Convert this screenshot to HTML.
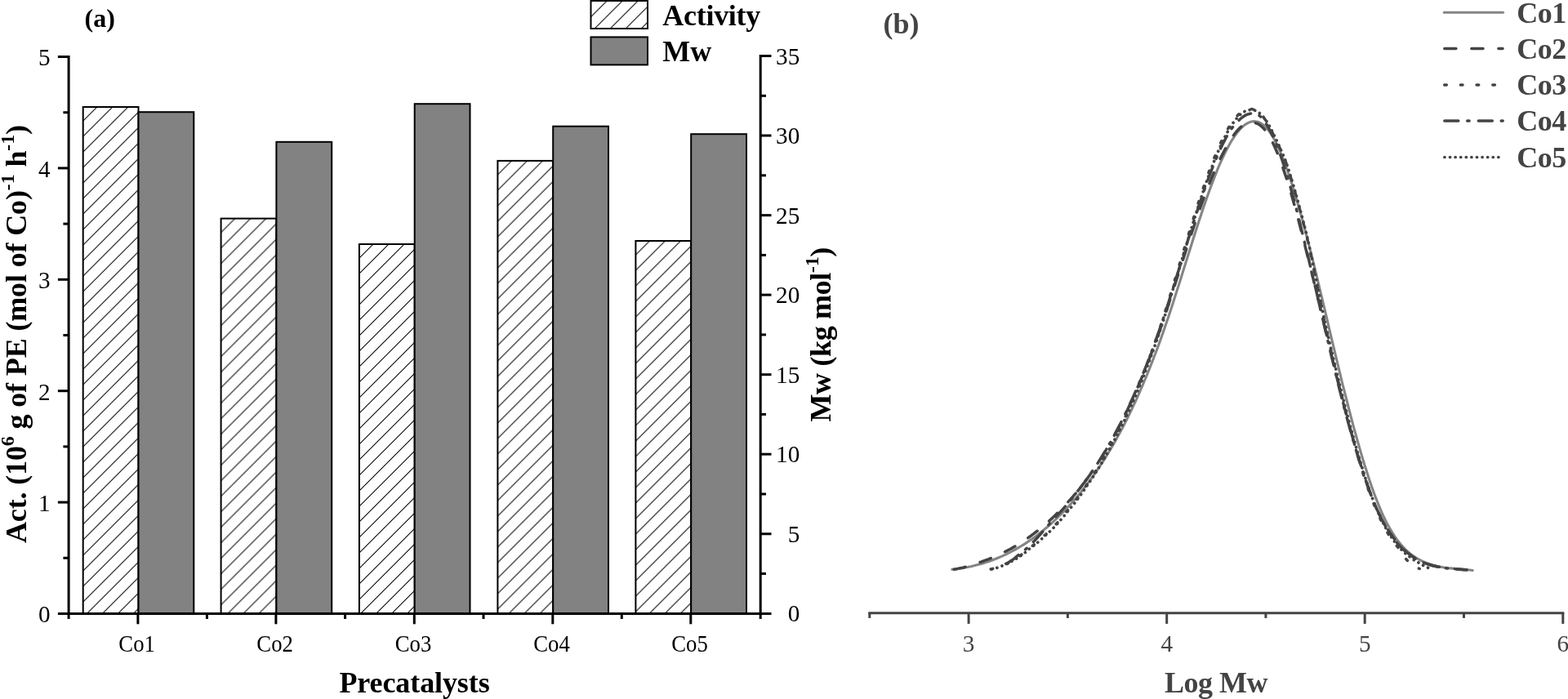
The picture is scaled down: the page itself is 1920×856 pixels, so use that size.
<!DOCTYPE html>
<html lang="en"><head><meta charset="utf-8"><title>Figure</title>
<style>
html,body{margin:0;padding:0;background:#fff;}
body{width:1920px;height:856px;overflow:hidden;}
svg{display:block;}
text{font-family:"Liberation Serif",serif;}
.b{font-weight:bold;}
.tk{font-size:30.3px;fill:#000;}
.tg{font-size:30.3px;fill:#444;}
</style></head><body>
<svg width="1920" height="856" viewBox="0 0 1920 856">
<defs>
<pattern id="hatch" patternUnits="userSpaceOnUse" width="19" height="19" x="-1.9" y="0"><path d="M-2,2 L2,-2 M-1,20 L20,-1 M17,21 L21,17" stroke="#000" stroke-width="1.05" fill="none"/></pattern>
<pattern id="hatchL" patternUnits="userSpaceOnUse" width="19" height="19" x="0.75" y="0"><path d="M-2,2 L2,-2 M-1,20 L20,-1 M17,21 L21,17" stroke="#000" stroke-width="1.05" fill="none"/></pattern>
</defs>
<rect width="1920" height="856" fill="#fff"/>
<g stroke="#000" stroke-width="2">
<g transform="translate(101.7,131.0)"><rect x="0" y="0" width="67.8" height="620.5" fill="url(#hatch)"/></g>
<rect x="169.5" y="137.2" width="67.8" height="614.3" fill="#828282"/>
<g transform="translate(270.6,267.6)"><rect x="0" y="0" width="67.8" height="483.9" fill="url(#hatch)"/></g>
<rect x="338.4" y="173.8" width="67.8" height="577.7" fill="#828282"/>
<g transform="translate(439.9,299.0)"><rect x="0" y="0" width="67.8" height="452.5" fill="url(#hatch)"/></g>
<rect x="507.7" y="127.2" width="67.8" height="624.3" fill="#828282"/>
<g transform="translate(609.4,196.9)"><rect x="0" y="0" width="67.8" height="554.6" fill="url(#hatch)"/></g>
<rect x="677.2" y="154.7" width="67.8" height="596.8" fill="#828282"/>
<g transform="translate(778.4,295.0)"><rect x="0" y="0" width="67.8" height="456.5" fill="url(#hatch)"/></g>
<rect x="846.2" y="164.2" width="67.8" height="587.3" fill="#828282"/>
</g>
<g stroke="#000" stroke-width="3" fill="none">
<path d="M84.1,68.0 V758.0"/>
<path d="M931.2,67.0 V758.0"/>
<path d="M70.89999999999999,751.5 H944.5"/>
<path d="M77.4,683.3 H84.1"/>
<path d="M70.9,615.1 H84.1"/>
<path d="M77.4,546.9 H84.1"/>
<path d="M70.9,478.7 H84.1"/>
<path d="M77.4,410.5 H84.1"/>
<path d="M70.9,342.3 H84.1"/>
<path d="M77.4,274.1 H84.1"/>
<path d="M70.9,205.9 H84.1"/>
<path d="M77.4,137.7 H84.1"/>
<path d="M70.9,69.5 H84.1"/>
<path d="M931.2,702.5 H938.0"/>
<path d="M931.2,653.8 H944.5"/>
<path d="M931.2,605.0 H938.0"/>
<path d="M931.2,556.2 H944.5"/>
<path d="M931.2,507.4 H938.0"/>
<path d="M931.2,458.7 H944.5"/>
<path d="M931.2,409.9 H938.0"/>
<path d="M931.2,361.1 H944.5"/>
<path d="M931.2,312.4 H938.0"/>
<path d="M931.2,263.6 H944.5"/>
<path d="M931.2,214.8 H938.0"/>
<path d="M931.2,166.0 H944.5"/>
<path d="M931.2,117.3 H938.0"/>
<path d="M931.2,68.5 H944.5"/>
<path d="M168.9,751.5 V764.3"/>
<path d="M253.4,751.5 V758.0"/>
<path d="M337.9,751.5 V764.3"/>
<path d="M422.6,751.5 V758.0"/>
<path d="M507.3,751.5 V764.3"/>
<path d="M592.0,751.5 V758.0"/>
<path d="M676.8,751.5 V764.3"/>
<path d="M761.3,751.5 V758.0"/>
<path d="M845.8,751.5 V764.3"/>
</g>
<text class="tk" x="61.6" y="762.4" text-anchor="end" textLength="14.6" lengthAdjust="spacingAndGlyphs">0</text>
<text class="tk" x="61.6" y="626.0" text-anchor="end" textLength="14.6" lengthAdjust="spacingAndGlyphs">1</text>
<text class="tk" x="61.6" y="489.6" text-anchor="end" textLength="14.6" lengthAdjust="spacingAndGlyphs">2</text>
<text class="tk" x="61.6" y="353.2" text-anchor="end" textLength="14.6" lengthAdjust="spacingAndGlyphs">3</text>
<text class="tk" x="61.6" y="216.8" text-anchor="end" textLength="14.6" lengthAdjust="spacingAndGlyphs">4</text>
<text class="tk" x="61.6" y="80.4" text-anchor="end" textLength="14.6" lengthAdjust="spacingAndGlyphs">5</text>
<text class="tk" x="979.3" y="761.3" text-anchor="end" textLength="14.6" lengthAdjust="spacingAndGlyphs">0</text>
<text class="tk" x="979.3" y="663.8" text-anchor="end" textLength="14.6" lengthAdjust="spacingAndGlyphs">5</text>
<text class="tk" x="979.3" y="566.2" text-anchor="end" textLength="29.2" lengthAdjust="spacingAndGlyphs">10</text>
<text class="tk" x="979.3" y="468.7" text-anchor="end" textLength="29.2" lengthAdjust="spacingAndGlyphs">15</text>
<text class="tk" x="979.3" y="371.1" text-anchor="end" textLength="29.2" lengthAdjust="spacingAndGlyphs">20</text>
<text class="tk" x="979.3" y="273.6" text-anchor="end" textLength="29.2" lengthAdjust="spacingAndGlyphs">25</text>
<text class="tk" x="979.3" y="176.0" text-anchor="end" textLength="29.2" lengthAdjust="spacingAndGlyphs">30</text>
<text class="tk" x="979.3" y="78.5" text-anchor="end" textLength="29.2" lengthAdjust="spacingAndGlyphs">35</text>
<text class="tk" x="167.6" y="798.3" text-anchor="middle" textLength="44.5" lengthAdjust="spacingAndGlyphs">Co1</text>
<text class="tk" x="336.6" y="798.3" text-anchor="middle" textLength="44.5" lengthAdjust="spacingAndGlyphs">Co2</text>
<text class="tk" x="506.0" y="798.3" text-anchor="middle" textLength="44.5" lengthAdjust="spacingAndGlyphs">Co3</text>
<text class="tk" x="675.5" y="798.3" text-anchor="middle" textLength="44.5" lengthAdjust="spacingAndGlyphs">Co4</text>
<text class="tk" x="844.5" y="798.3" text-anchor="middle" textLength="44.5" lengthAdjust="spacingAndGlyphs">Co5</text>
<text class="b" x="103.6" y="33.4" font-size="32">(a)</text>
<text class="b" x="415.4" y="848.2" font-size="36" textLength="184.3">Precatalysts</text>
<text class="b" font-size="36" textLength="512" transform="translate(32.2,665) rotate(-90)">Act. (10<tspan font-size="24" dy="-15.5">6</tspan><tspan dy="15.5"> g of PE (mol of Co)</tspan><tspan font-size="24" dy="-15.5">-1</tspan><tspan dy="15.5"> h</tspan><tspan font-size="24" dy="-15.5">-1</tspan><tspan dy="15.5">)</tspan></text>
<text class="b" font-size="36" textLength="213.8" transform="translate(1017,516.5) rotate(-90)">Mw (kg mol<tspan font-size="24" dy="-15.5">-1</tspan><tspan dy="15.5">)</tspan></text>
<g stroke="#000" stroke-width="2">
<g transform="translate(723.5,1)"><rect x="0" y="0" width="69.5" height="34" fill="url(#hatchL)"/></g>
<rect x="723.5" y="45.4" width="69.5" height="34" fill="#828282"/>
</g>
<text class="b" x="811.3" y="30.7" font-size="36" textLength="120">Activity</text>
<text class="b" x="811.3" y="75.2" font-size="36">Mw</text>
<g stroke="#444" stroke-width="3" fill="none">
<path d="M1063.3,750.7 H1915.3"/>
<path d="M1064.8,750.7 V756.9"/>
<path d="M1186.1,750.7 V763.9"/>
<path d="M1307.4,750.7 V756.9"/>
<path d="M1428.7,750.7 V763.9"/>
<path d="M1549.9,750.7 V756.9"/>
<path d="M1671.2,750.7 V763.9"/>
<path d="M1792.5,750.7 V756.9"/>
<path d="M1913.8,750.7 V763.9"/>
</g>
<text class="tg" x="1186.1" y="798.2" text-anchor="middle" textLength="14.6" lengthAdjust="spacingAndGlyphs">3</text>
<text class="tg" x="1428.7" y="798.2" text-anchor="middle" textLength="14.6" lengthAdjust="spacingAndGlyphs">4</text>
<text class="tg" x="1671.2" y="798.2" text-anchor="middle" textLength="14.6" lengthAdjust="spacingAndGlyphs">5</text>
<text class="tg" x="1913.8" y="798.2" text-anchor="middle" textLength="14.6" lengthAdjust="spacingAndGlyphs">6</text>
<text class="b" x="1426" y="847.7" font-size="36" textLength="126.5" fill="#444">Log Mw</text>
<text class="b" x="1081.6" y="41" font-size="36" fill="#444">(b)</text>
<g fill="none" stroke-linejoin="round">
<path d="M1165.8,697.3 L1167.7,697.1 L1169.6,696.9 L1171.5,696.6 L1173.5,696.4 L1175.4,696.1 L1177.3,695.8 L1179.2,695.5 L1181.1,695.2 L1183.0,694.8 L1184.9,694.5 L1186.9,694.1 L1188.8,693.7 L1190.7,693.2 L1192.6,692.8 L1194.5,692.3 L1196.4,691.8 L1198.3,691.3 L1200.3,690.8 L1202.2,690.2 L1204.1,689.7 L1206.0,689.1 L1207.9,688.5 L1209.8,687.8 L1211.7,687.2 L1213.7,686.5 L1215.6,685.8 L1217.5,685.0 L1219.4,684.3 L1221.3,683.5 L1223.2,682.7 L1225.1,681.9 L1227.1,681.1 L1229.0,680.2 L1230.9,679.3 L1232.8,678.4 L1234.7,677.4 L1236.6,676.5 L1238.5,675.5 L1240.5,674.4 L1242.4,673.4 L1244.3,672.3 L1246.2,671.2 L1248.1,670.1 L1250.0,669.0 L1251.9,667.8 L1253.9,666.6 L1255.8,665.4 L1257.7,664.1 L1259.6,662.8 L1261.5,661.5 L1263.4,660.2 L1265.3,658.8 L1267.3,657.4 L1269.2,656.0 L1271.1,654.5 L1273.0,653.0 L1274.9,651.5 L1276.8,650.0 L1278.7,648.4 L1280.7,646.8 L1282.6,645.2 L1284.5,643.5 L1286.4,641.8 L1288.3,640.1 L1290.2,638.3 L1292.1,636.6 L1294.0,634.8 L1296.0,632.9 L1297.9,631.0 L1299.8,629.1 L1301.7,627.2 L1303.6,625.2 L1305.5,623.2 L1307.4,621.2 L1309.4,619.1 L1311.3,617.0 L1313.2,614.8 L1315.1,612.7 L1317.0,610.5 L1318.9,608.2 L1320.8,605.9 L1322.8,603.6 L1324.7,601.2 L1326.6,598.8 L1328.5,596.4 L1330.4,593.9 L1332.3,591.4 L1334.2,588.8 L1336.2,586.2 L1338.1,583.6 L1340.0,580.9 L1341.9,578.2 L1343.8,575.4 L1345.7,572.5 L1347.6,569.7 L1349.6,566.7 L1351.5,563.8 L1353.4,560.7 L1355.3,557.7 L1357.2,554.5 L1359.1,551.4 L1361.0,548.1 L1363.0,544.8 L1364.9,541.5 L1366.8,538.1 L1368.7,534.6 L1370.6,531.1 L1372.5,527.6 L1374.4,524.0 L1376.4,520.3 L1378.3,516.5 L1380.2,512.7 L1382.1,508.9 L1384.0,504.9 L1385.9,501.0 L1387.8,496.9 L1389.8,492.8 L1391.7,488.6 L1393.6,484.4 L1395.5,480.1 L1397.4,475.7 L1399.3,471.3 L1401.2,466.7 L1403.2,462.2 L1405.1,457.5 L1407.0,452.8 L1408.9,448.0 L1410.8,443.1 L1412.7,438.2 L1414.6,433.2 L1416.6,428.1 L1418.5,422.9 L1420.4,417.7 L1422.3,412.4 L1424.2,407.0 L1426.1,401.5 L1428.0,396.0 L1430.0,390.3 L1431.9,384.6 L1433.8,378.8 L1435.7,373.0 L1437.6,367.1 L1439.5,361.1 L1441.4,355.1 L1443.4,349.1 L1445.3,343.0 L1447.2,336.9 L1449.1,330.8 L1451.0,324.7 L1452.9,318.6 L1454.8,312.5 L1456.8,306.4 L1458.7,300.3 L1460.6,294.2 L1462.5,288.2 L1464.4,282.2 L1466.3,276.3 L1468.2,270.4 L1470.2,264.6 L1472.1,258.8 L1474.0,253.1 L1475.9,247.6 L1477.8,242.1 L1479.7,236.7 L1481.6,231.4 L1483.6,226.2 L1485.5,221.1 L1487.4,216.2 L1489.3,211.4 L1491.2,206.7 L1493.1,202.2 L1495.0,197.8 L1497.0,193.6 L1498.9,189.5 L1500.8,185.6 L1502.7,181.9 L1504.6,178.4 L1506.5,175.0 L1508.4,171.8 L1510.4,168.8 L1512.3,166.0 L1514.2,163.3 L1516.1,160.9 L1518.0,158.7 L1519.9,156.7 L1521.8,154.9 L1523.8,153.3 L1525.7,151.9 L1527.6,150.8 L1529.5,149.9 L1531.4,149.2 L1533.3,148.8 L1535.2,148.6 L1537.2,148.7 L1539.1,149.0 L1541.0,149.5 L1542.9,150.4 L1544.8,151.5 L1546.7,152.8 L1548.6,154.5 L1550.5,156.4 L1552.5,158.6 L1554.4,161.1 L1556.3,163.9 L1558.2,166.9 L1560.1,170.3 L1562.0,173.9 L1563.9,177.7 L1565.9,181.9 L1567.8,186.2 L1569.7,190.8 L1571.6,195.7 L1573.5,200.7 L1575.4,206.0 L1577.3,211.5 L1579.3,217.1 L1581.2,223.0 L1583.1,229.0 L1585.0,235.3 L1586.9,241.6 L1588.8,248.2 L1590.7,254.9 L1592.7,261.7 L1594.6,268.7 L1596.5,275.8 L1598.4,283.0 L1600.3,290.3 L1602.2,297.8 L1604.1,305.3 L1606.1,312.9 L1608.0,320.6 L1609.9,328.4 L1611.8,336.2 L1613.7,344.1 L1615.6,352.1 L1617.5,360.0 L1619.5,368.1 L1621.4,376.1 L1623.3,384.2 L1625.2,392.2 L1627.1,400.3 L1629.0,408.4 L1630.9,416.4 L1632.9,424.5 L1634.8,432.5 L1636.7,440.4 L1638.6,448.3 L1640.5,456.2 L1642.4,464.0 L1644.3,471.8 L1646.3,479.4 L1648.2,487.0 L1650.1,494.5 L1652.0,501.9 L1653.9,509.2 L1655.8,516.5 L1657.7,523.6 L1659.7,530.6 L1661.6,537.5 L1663.5,544.2 L1665.4,550.9 L1667.3,557.4 L1669.2,563.8 L1671.1,570.0 L1673.1,576.1 L1675.0,582.1 L1676.9,587.9 L1678.8,593.5 L1680.7,599.0 L1682.6,604.3 L1684.5,609.4 L1686.5,614.4 L1688.4,619.1 L1690.3,623.7 L1692.2,628.1 L1694.1,632.3 L1696.0,636.2 L1697.9,640.0 L1699.9,643.7 L1701.8,647.1 L1703.7,650.3 L1705.6,653.4 L1707.5,656.4 L1709.4,659.1 L1711.3,661.8 L1713.3,664.2 L1715.2,666.6 L1717.1,668.8 L1719.0,670.8 L1720.9,672.8 L1722.8,674.6 L1724.7,676.3 L1726.7,677.9 L1728.6,679.4 L1730.5,680.8 L1732.4,682.1 L1734.3,683.3 L1736.2,684.4 L1738.1,685.5 L1740.1,686.5 L1742.0,687.4 L1743.9,688.2 L1745.8,689.0 L1747.7,689.8 L1749.6,690.5 L1751.5,691.1 L1753.5,691.7 L1755.4,692.2 L1757.3,692.7 L1759.2,693.2 L1761.1,693.6 L1763.0,694.0 L1764.9,694.3 L1766.9,694.7 L1768.8,695.0 L1770.7,695.2 L1772.6,695.5 L1774.5,695.7 L1776.4,695.9 L1778.3,696.1 L1780.3,696.3 L1782.2,696.5 L1784.1,696.6 L1786.0,696.8 L1787.9,697.0 L1789.8,697.1 L1791.7,697.3 L1793.7,697.4 L1795.6,697.6 L1797.5,697.8 L1799.4,698.0 L1801.3,698.2 L1803.2,698.5" stroke="#858585" stroke-width="3.1" stroke-linecap="round"/>
<path d="M1168.3,697.2 L1169.8,697.0 L1171.3,696.7 L1172.8,696.4 L1174.3,696.1 L1175.8,695.8 L1177.3,695.5 L1178.8,695.2 L1180.3,694.8 L1181.8,694.4 L1183.3,694.0 L1184.8,693.6 L1186.3,693.2 L1187.8,692.8 L1189.3,692.3 L1190.8,691.9 L1192.3,691.4 L1193.8,690.9 L1195.3,690.4 L1196.8,689.8 L1198.3,689.2 L1199.8,688.6 L1201.3,688.1 L1202.8,687.5 L1204.3,687.0 L1205.8,686.4 L1207.3,685.9 L1208.8,685.4 L1210.3,684.8 L1211.8,684.2 L1213.3,683.6 L1214.8,683.0 L1216.3,682.4 L1217.8,681.7 L1219.3,681.1 L1220.8,680.4 L1222.3,679.7 L1223.8,679.1 L1225.3,678.4 L1226.8,677.6 L1228.3,676.9 L1229.8,676.2 L1231.3,675.4 L1232.8,674.6 L1234.3,673.8 L1235.8,673.0 L1237.3,672.2 L1238.8,671.4 L1240.3,670.5 L1241.8,669.6 L1243.3,668.8 L1244.8,667.9 L1246.3,666.9 L1247.8,666.0 L1249.3,665.1 L1250.8,664.1 L1252.3,663.1 L1253.8,662.1 L1255.3,661.1 L1256.8,660.1 L1258.3,659.0 L1259.8,658.0 L1261.3,656.9 L1262.8,655.8 L1264.3,654.7 L1265.8,653.6 L1267.3,652.4 L1268.8,651.2 L1270.3,650.1 L1271.8,648.9 L1273.3,647.7 L1274.8,646.4 L1276.3,645.2 L1277.8,643.9 L1279.3,642.7 L1280.8,641.4 L1282.3,640.0 L1283.8,638.7 L1285.3,637.4 L1286.8,636.0 L1288.3,634.6 L1289.8,633.2 L1291.3,631.7 L1292.8,630.3 L1294.3,628.8 L1295.8,627.3 L1297.3,625.8 L1298.8,624.3 L1300.3,622.8 L1301.8,621.2 L1303.3,619.6 L1304.8,618.1 L1306.3,616.4 L1307.8,614.8 L1309.3,613.1 L1310.8,611.5 L1312.3,609.8 L1313.8,608.1 L1315.3,606.3 L1316.8,604.6 L1318.3,602.8 L1319.8,601.0 L1321.3,599.2 L1322.8,597.3 L1324.3,595.4 L1325.8,593.4 L1327.3,591.5 L1328.8,589.4 L1330.3,587.4 L1331.8,585.4 L1333.3,583.3 L1334.8,581.2 L1336.3,579.0 L1337.8,576.9 L1339.3,574.7 L1340.8,572.4 L1342.3,570.2 L1343.8,567.9 L1345.3,565.6 L1346.8,563.3 L1348.3,560.9 L1349.8,558.5 L1351.3,556.0 L1352.8,553.6 L1354.3,551.1 L1355.8,548.5 L1357.3,546.0 L1358.8,543.4 L1360.3,540.8 L1361.8,538.1 L1363.3,535.4 L1364.8,532.7 L1366.3,529.9 L1367.8,527.1 L1369.3,524.3 L1370.8,521.4 L1372.3,518.5 L1373.8,515.5 L1375.3,512.5 L1376.8,509.5 L1378.3,506.5 L1379.8,503.4 L1381.3,500.2 L1382.8,497.0 L1384.3,493.8 L1385.8,490.6 L1387.3,487.3 L1388.8,484.0 L1390.3,480.6 L1391.8,477.2 L1393.3,473.7 L1394.8,470.2 L1396.3,466.7 L1397.8,463.1 L1399.3,459.5 L1400.8,455.8 L1402.3,452.1 L1403.8,448.3 L1405.3,444.5 L1406.8,440.7 L1408.3,436.8 L1409.8,432.9 L1411.3,428.9 L1412.8,424.9 L1414.3,420.8 L1415.8,416.7 L1417.3,412.5 L1418.8,408.3 L1420.3,404.0 L1421.8,399.7 L1423.3,395.4 L1424.8,391.0 L1426.3,386.5 L1427.8,382.0 L1429.3,377.5 L1430.8,372.9 L1432.3,368.3 L1433.8,363.6 L1435.3,359.0 L1436.8,354.3 L1438.3,349.6 L1439.8,344.9 L1441.3,340.3 L1442.8,335.7 L1444.3,331.0 L1445.8,326.4 L1447.3,321.8 L1448.8,317.1 L1450.3,312.5 L1451.8,307.9 L1453.3,303.3 L1454.8,298.7 L1456.3,294.1 L1457.8,289.5 L1459.3,285.0 L1460.8,280.5 L1462.3,276.0 L1463.8,271.5 L1465.3,267.1 L1466.8,262.7 L1468.3,258.4 L1469.8,254.1 L1471.3,249.9 L1472.8,245.8 L1474.3,241.7 L1475.8,237.7 L1477.3,233.8 L1478.8,230.0 L1480.3,226.2 L1481.8,222.4 L1483.3,218.8 L1484.8,215.1 L1486.3,211.6 L1487.8,208.2 L1489.3,204.8 L1490.8,201.5 L1492.3,198.2 L1493.8,195.1 L1495.3,192.0 L1496.8,189.1 L1498.3,186.2 L1499.8,183.4 L1501.3,180.7 L1502.8,178.0 L1504.3,175.4 L1505.8,172.8 L1507.3,170.4 L1508.8,168.1 L1510.3,165.9 L1511.8,163.9 L1513.3,162.0 L1514.8,160.2 L1516.3,158.5 L1517.8,157.0 L1519.3,155.6 L1520.8,154.4 L1522.3,153.3 L1523.8,152.4 L1525.3,151.6 L1526.8,151.0 L1528.3,150.5 L1529.8,150.2 L1531.3,150.0 L1532.8,149.9 L1534.3,150.0 L1535.8,150.2 L1537.3,150.6 L1538.8,151.1 L1540.3,151.7 L1541.8,152.6 L1543.3,153.7 L1544.8,154.9 L1546.3,156.3 L1547.8,157.9 L1549.3,159.7 L1550.8,161.7 L1552.3,163.8 L1553.8,166.2 L1555.3,168.7 L1556.8,171.5 L1558.3,174.4 L1559.8,177.5 L1561.3,180.8 L1562.8,184.2 L1564.3,187.8 L1565.8,191.6 L1567.3,195.5 L1568.8,199.6 L1570.3,203.8 L1571.8,208.1 L1573.3,212.5 L1574.8,217.0 L1576.3,221.7 L1577.8,226.5 L1579.3,231.4 L1580.8,236.5 L1582.3,241.6 L1583.8,246.9 L1585.3,252.2 L1586.8,257.7 L1588.3,263.3 L1589.8,268.9 L1591.3,274.7 L1592.8,280.5 L1594.3,286.4 L1595.8,292.4 L1597.3,298.3 L1598.8,304.3 L1600.3,310.2 L1601.8,316.2 L1603.3,322.3 L1604.8,328.3 L1606.3,334.4 L1607.8,340.6 L1609.3,346.8 L1610.8,353.0 L1612.3,359.2 L1613.8,365.5 L1615.3,371.8 L1616.8,378.1 L1618.3,384.4 L1619.8,390.7 L1621.3,397.0 L1622.8,403.3 L1624.3,409.6 L1625.8,415.9 L1627.3,422.2 L1628.8,428.5 L1630.3,434.7 L1631.8,440.9 L1633.3,447.1 L1634.8,453.3 L1636.3,459.4 L1637.8,465.5 L1639.3,471.6 L1640.8,477.6 L1642.3,483.5 L1643.8,489.5 L1645.3,495.3 L1646.8,501.0 L1648.3,506.7 L1649.8,512.3 L1651.3,517.9 L1652.8,523.3 L1654.3,528.8 L1655.8,534.1 L1657.3,539.4 L1658.8,544.6 L1660.3,549.7 L1661.8,554.8 L1663.3,559.8 L1664.8,564.7 L1666.3,569.5 L1667.8,574.2 L1669.3,578.9 L1670.8,583.5 L1672.3,587.9 L1673.8,592.3 L1675.3,596.6 L1676.8,600.7 L1678.3,604.8 L1679.8,608.8 L1681.3,612.6 L1682.8,616.3 L1684.3,619.8 L1685.8,623.1 L1687.3,626.3 L1688.8,629.4 L1690.3,632.3 L1691.8,635.2 L1693.3,638.0 L1694.8,640.7 L1696.3,643.3 L1697.8,645.8 L1699.3,648.3 L1700.8,650.6 L1702.3,652.9 L1703.8,655.1 L1705.3,657.2 L1706.8,659.2 L1708.3,661.2 L1709.8,663.1 L1711.3,664.9 L1712.8,666.6 L1714.3,668.3 L1715.8,669.8 L1717.3,671.4 L1718.8,672.8 L1720.3,674.2 L1721.8,675.5 L1723.3,676.8 L1724.8,678.0 L1726.3,679.1 L1727.8,680.2 L1729.3,681.3 L1730.8,682.3 L1732.3,683.2 L1733.8,684.1 L1735.3,685.0 L1736.8,685.8 L1738.3,686.5 L1739.8,687.3 L1741.3,687.9 L1742.8,688.6 L1744.3,689.2 L1745.8,689.8 L1747.3,690.3 L1748.8,690.8 L1750.3,691.3 L1751.8,691.8 L1753.3,692.2 L1754.8,692.6 L1756.3,693.0 L1757.8,693.3 L1759.3,693.7 L1760.8,694.0 L1762.3,694.3 L1763.8,694.5 L1765.3,694.8 L1766.8,695.0 L1768.3,695.2 L1769.8,695.4 L1771.3,695.6 L1772.8,695.8 L1774.3,696.0 L1775.8,696.1 L1777.3,696.3 L1778.8,696.4 L1780.3,696.5 L1781.8,696.7 L1783.3,696.8 L1784.8,696.9 L1786.3,697.1 L1787.8,697.2 L1789.3,697.3 L1790.8,697.5 L1792.3,697.6 L1793.8,697.7 L1795.3,697.8 L1796.8,697.8 L1798.3,697.9" stroke="#444" stroke-width="3.5" stroke-linecap="round" stroke-dasharray="14.1 18.95"/>
<path d="M1213.2,697.0 L1214.7,696.6 L1216.2,696.2 L1217.7,695.9 L1219.2,695.5 L1220.7,695.1 L1222.2,694.6 L1223.7,694.0 L1225.2,693.3 L1226.7,692.6 L1228.2,691.9 L1229.7,691.2 L1231.2,690.6 L1232.7,689.9 L1234.2,689.2 L1235.7,688.4 L1237.2,687.6 L1238.7,686.8 L1240.2,685.9 L1241.7,685.0 L1243.2,684.2 L1244.7,683.3 L1246.2,682.4 L1247.7,681.4 L1249.2,680.3 L1250.7,679.2 L1252.2,678.1 L1253.7,676.9 L1255.2,675.6 L1256.7,674.3 L1258.2,673.0 L1259.7,671.9 L1261.2,670.8 L1262.7,669.6 L1264.2,668.5 L1265.7,667.3 L1267.2,666.1 L1268.7,664.9 L1270.2,663.6 L1271.7,662.3 L1273.2,661.0 L1274.7,659.6 L1276.2,658.2 L1277.7,656.9 L1279.2,655.5 L1280.7,654.2 L1282.2,652.8 L1283.7,651.4 L1285.2,649.9 L1286.7,648.5 L1288.2,647.0 L1289.7,645.4 L1291.2,643.8 L1292.7,642.2 L1294.2,640.6 L1295.7,638.9 L1297.2,637.2 L1298.7,635.5 L1300.2,633.7 L1301.7,631.9 L1303.2,630.1 L1304.7,628.2 L1306.2,626.4 L1307.7,624.6 L1309.2,622.8 L1310.7,621.0 L1312.2,619.2 L1313.7,617.3 L1315.2,615.3 L1316.7,613.4 L1318.2,611.4 L1319.7,609.4 L1321.2,607.3 L1322.7,605.3 L1324.2,603.1 L1325.7,601.0 L1327.2,598.8 L1328.7,596.5 L1330.2,594.3 L1331.7,592.1 L1333.2,589.9 L1334.7,587.7 L1336.2,585.4 L1337.7,583.2 L1339.2,580.9 L1340.7,578.5 L1342.2,576.1 L1343.7,573.7 L1345.2,571.3 L1346.7,568.8 L1348.2,566.3 L1349.7,563.7 L1351.2,561.1 L1352.7,558.5 L1354.2,555.8 L1355.7,553.0 L1357.2,550.3 L1358.7,547.5 L1360.2,544.8 L1361.7,542.0 L1363.2,539.3 L1364.7,536.5 L1366.2,533.7 L1367.7,530.8 L1369.2,527.9 L1370.7,524.9 L1372.2,521.9 L1373.7,518.9 L1375.2,515.8 L1376.7,512.6 L1378.2,509.5 L1379.7,506.2 L1381.2,503.0 L1382.7,499.7 L1384.2,496.3 L1385.7,492.9 L1387.2,489.5 L1388.7,486.0 L1390.2,482.4 L1391.7,478.9 L1393.2,475.2 L1394.7,471.5 L1396.2,467.8 L1397.7,464.0 L1399.2,460.1 L1400.7,456.3 L1402.2,452.3 L1403.7,448.3 L1405.2,444.3 L1406.7,440.3 L1408.2,436.2 L1409.7,432.1 L1411.2,428.0 L1412.7,423.8 L1414.2,419.5 L1415.7,415.2 L1417.2,410.8 L1418.7,406.3 L1420.2,401.9 L1421.7,397.3 L1423.2,392.7 L1424.7,388.0 L1426.2,383.3 L1427.7,378.5 L1429.2,373.7 L1430.7,368.8 L1432.2,363.9 L1433.7,359.0 L1435.2,354.0 L1436.7,348.9 L1438.2,343.9 L1439.7,339.0 L1441.2,334.0 L1442.7,329.0 L1444.2,324.1 L1445.7,319.1 L1447.2,314.1 L1448.7,309.1 L1450.2,304.1 L1451.7,299.2 L1453.2,294.2 L1454.7,289.2 L1456.2,284.3 L1457.7,279.4 L1459.2,274.5 L1460.7,269.6 L1462.2,264.7 L1463.7,259.9 L1465.2,255.2 L1466.7,250.4 L1468.2,245.7 L1469.7,241.1 L1471.2,236.6 L1472.7,232.1 L1474.2,227.7 L1475.7,223.3 L1477.2,219.0 L1478.7,214.8 L1480.2,210.7 L1481.7,206.6 L1483.2,202.6 L1484.7,198.7 L1486.2,194.9 L1487.7,191.1 L1489.2,187.5 L1490.7,184.0 L1492.2,180.5 L1493.7,177.2 L1495.2,173.9 L1496.7,170.8 L1498.2,167.7 L1499.7,164.8 L1501.2,162.0 L1502.7,159.3 L1504.2,156.7 L1505.7,154.2 L1507.2,151.9 L1508.7,149.7 L1510.2,147.6 L1511.7,145.6 L1513.2,143.8 L1514.7,142.1 L1516.2,140.6 L1517.7,139.2 L1519.2,137.9 L1520.7,136.8 L1522.2,135.8 L1523.7,135.1 L1525.2,134.5 L1526.7,134.0 L1528.2,133.7 L1529.7,133.5 L1531.2,133.4 L1532.7,133.6 L1534.2,133.9 L1535.7,134.3 L1537.2,134.9 L1538.7,135.7 L1540.2,136.7 L1541.7,137.8 L1543.2,139.2 L1544.7,140.7 L1546.2,142.5 L1547.7,144.4 L1549.2,146.5 L1550.7,148.8 L1552.2,151.3 L1553.7,154.0 L1555.2,156.9 L1556.7,159.9 L1558.2,162.9 L1559.7,166.0 L1561.2,169.0 L1562.7,172.0 L1564.2,175.0 L1565.7,178.2 L1567.2,181.4 L1568.7,184.7 L1570.2,188.0 L1571.7,191.5 L1573.2,195.1 L1574.7,199.1 L1576.2,203.5 L1577.7,208.1 L1579.2,213.0 L1580.7,217.9 L1582.2,222.9 L1583.7,228.0 L1585.2,233.3 L1586.7,238.6 L1588.2,244.0 L1589.7,249.5 L1591.2,255.0 L1592.7,260.7 L1594.2,266.4 L1595.7,272.1 L1597.2,278.0 L1598.7,283.9 L1600.2,290.1 L1601.7,296.7 L1603.2,303.5 L1604.7,310.6 L1606.2,317.7 L1607.7,324.9 L1609.2,332.2 L1610.7,339.5 L1612.2,346.8 L1613.7,354.2 L1615.2,361.6 L1616.7,369.0 L1618.2,376.5 L1619.7,383.9 L1621.2,391.1 L1622.7,398.1 L1624.2,404.9 L1625.7,411.5 L1627.2,418.0 L1628.7,424.5 L1630.2,431.0 L1631.7,437.5 L1633.2,443.9 L1634.7,450.2 L1636.2,456.6 L1637.7,462.9 L1639.2,469.1 L1640.7,475.3 L1642.2,481.4 L1643.7,487.5 L1645.2,493.5 L1646.7,499.5 L1648.2,505.4 L1649.7,511.2 L1651.2,517.0 L1652.7,522.7 L1654.2,528.3 L1655.7,533.8 L1657.2,539.3 L1658.7,544.7 L1660.2,550.0 L1661.7,555.3 L1663.2,560.4 L1664.7,565.5 L1666.2,570.5 L1667.7,575.4 L1669.2,580.1 L1670.7,584.8 L1672.2,589.4 L1673.7,593.9 L1675.2,598.3 L1676.7,602.5 L1678.2,606.7 L1679.7,610.7 L1681.2,614.6 L1682.7,618.4 L1684.2,622.1 L1685.7,625.6 L1687.2,629.0 L1688.7,632.3 L1690.2,635.5 L1691.7,638.7 L1693.2,641.7 L1694.7,644.6 L1696.2,647.4 L1697.7,650.1 L1699.2,652.7 L1700.7,655.2 L1702.2,657.5 L1703.7,659.7 L1705.2,661.9 L1706.7,663.9 L1708.2,665.8 L1709.7,667.7 L1711.2,669.6 L1712.7,671.7 L1714.2,673.8 L1715.7,676.0 L1717.2,678.3 L1718.7,680.6 L1720.2,682.7 L1721.7,684.6 L1723.2,686.3 L1724.7,687.9 L1726.2,689.4 L1727.7,690.7 L1729.2,691.8 L1730.7,692.8 L1732.2,693.5 L1733.7,694.2 L1735.2,694.9 L1736.7,695.8 L1738.2,696.5" stroke="#444" stroke-width="3.5" stroke-linecap="round" stroke-dasharray="2.6 17.1"/>
<path d="M1233.7,690.3 L1235.2,688.7 L1236.7,687.5 L1238.2,686.6 L1239.7,685.6 L1241.2,684.6 L1242.7,683.4 L1244.2,682.1 L1245.7,680.8 L1247.2,679.5 L1248.7,678.2 L1250.2,677.1 L1251.7,676.0 L1253.2,674.8 L1254.7,673.6 L1256.2,672.4 L1257.7,671.0 L1259.2,669.7 L1260.7,668.2 L1262.2,666.7 L1263.7,665.2 L1265.2,663.7 L1266.7,662.2 L1268.2,660.6 L1269.7,659.0 L1271.2,657.4 L1272.7,655.7 L1274.2,654.0 L1275.7,652.3 L1277.2,650.6 L1278.7,648.9 L1280.2,647.2 L1281.7,645.4 L1283.2,643.6 L1284.7,641.8 L1286.2,639.9 L1287.7,638.1 L1289.2,636.5 L1290.7,634.9 L1292.2,633.4 L1293.7,631.9 L1295.2,630.3 L1296.7,628.7 L1298.2,627.1 L1299.7,625.5 L1301.2,623.8 L1302.7,622.1 L1304.2,620.4 L1305.7,618.7 L1307.2,617.0 L1308.7,615.2 L1310.2,613.4 L1311.7,611.6 L1313.2,609.7 L1314.7,607.8 L1316.2,605.9 L1317.7,604.0 L1319.2,602.0 L1320.7,600.0 L1322.2,598.1 L1323.7,596.1 L1325.2,594.1 L1326.7,592.2 L1328.2,590.2 L1329.7,588.1 L1331.2,586.1 L1332.7,584.0 L1334.2,581.9 L1335.7,579.8 L1337.2,577.6 L1338.7,575.4 L1340.2,573.2 L1341.7,571.0 L1343.2,568.7 L1344.7,566.4 L1346.2,564.0 L1347.7,561.7 L1349.2,559.3 L1350.7,556.8 L1352.2,554.4 L1353.7,551.9 L1355.2,549.3 L1356.7,546.8 L1358.2,544.2 L1359.7,541.6 L1361.2,538.9 L1362.7,536.2 L1364.2,533.5 L1365.7,530.7 L1367.2,527.9 L1368.7,525.0 L1370.2,522.2 L1371.7,519.3 L1373.2,516.3 L1374.7,513.3 L1376.2,510.3 L1377.7,507.2 L1379.2,504.1 L1380.7,501.0 L1382.2,497.8 L1383.7,494.6 L1385.2,491.3 L1386.7,488.0 L1388.2,484.6 L1389.7,481.3 L1391.2,477.8 L1392.7,474.4 L1394.2,470.8 L1395.7,467.3 L1397.2,463.7 L1398.7,460.0 L1400.2,456.3 L1401.7,452.6 L1403.2,448.8 L1404.7,445.0 L1406.2,441.1 L1407.7,437.2 L1409.2,433.2 L1410.7,429.2 L1412.2,425.1 L1413.7,421.0 L1415.2,416.9 L1416.7,412.6 L1418.2,408.4 L1419.7,404.1 L1421.2,399.7 L1422.7,395.3 L1424.2,390.8 L1425.7,386.3 L1427.2,381.7 L1428.7,377.1 L1430.2,372.5 L1431.7,367.8 L1433.2,363.0 L1434.7,358.3 L1436.2,353.5 L1437.7,348.7 L1439.2,343.8 L1440.7,339.0 L1442.2,334.2 L1443.7,329.4 L1445.2,324.6 L1446.7,319.7 L1448.2,314.9 L1449.7,310.0 L1451.2,305.2 L1452.7,300.4 L1454.2,295.6 L1455.7,290.8 L1457.2,286.0 L1458.7,281.2 L1460.2,276.5 L1461.7,271.7 L1463.2,267.0 L1464.7,262.4 L1466.2,257.8 L1467.7,253.2 L1469.2,248.7 L1470.7,244.2 L1472.2,239.7 L1473.7,235.4 L1475.2,231.1 L1476.7,226.8 L1478.2,222.6 L1479.7,218.5 L1481.2,214.5 L1482.7,210.5 L1484.2,206.6 L1485.7,202.8 L1487.2,199.0 L1488.7,195.4 L1490.2,191.9 L1491.7,188.4 L1493.2,185.0 L1494.7,181.8 L1496.2,178.6 L1497.7,175.5 L1499.2,172.6 L1500.7,169.7 L1502.2,166.9 L1503.7,164.3 L1505.2,161.8 L1506.7,159.5 L1508.2,157.4 L1509.7,155.4 L1511.2,153.5 L1512.7,151.8 L1514.2,150.1 L1515.7,148.6 L1517.2,147.1 L1518.7,145.7 L1520.2,144.5 L1521.7,143.3 L1523.2,142.3 L1524.7,141.4 L1526.2,140.6 L1527.7,140.0 L1529.2,139.6 L1530.7,139.2 L1532.2,139.0 L1533.7,138.9 L1535.2,139.0 L1536.7,139.3 L1538.2,139.7 L1539.7,140.2 L1541.2,141.0 L1542.7,142.1 L1544.2,143.4 L1545.7,144.9 L1547.2,146.8 L1548.7,148.9 L1550.2,151.2 L1551.7,153.7 L1553.2,156.3 L1554.7,159.0 L1556.2,161.8 L1557.7,164.9 L1559.2,168.1 L1560.7,171.5 L1562.2,175.0 L1563.7,178.7 L1565.2,182.6 L1566.7,186.6 L1568.2,190.8 L1569.7,195.2 L1571.2,199.6 L1572.7,204.3 L1574.2,209.0 L1575.7,213.9 L1577.2,218.9 L1578.7,224.1 L1580.2,229.3 L1581.7,234.7 L1583.2,240.2 L1584.7,245.8 L1586.2,251.5 L1587.7,257.3 L1589.2,263.2 L1590.7,269.1 L1592.2,275.2 L1593.7,281.3 L1595.2,287.5 L1596.7,293.7 L1598.2,299.8 L1599.7,306.0 L1601.2,312.1 L1602.7,318.3 L1604.2,324.6 L1605.7,330.8 L1607.2,337.1 L1608.7,343.5 L1610.2,349.9 L1611.7,356.2 L1613.2,362.6 L1614.7,369.1 L1616.2,375.5 L1617.7,381.9 L1619.2,388.3 L1620.7,394.8 L1622.2,401.2 L1623.7,407.6 L1625.2,414.0 L1626.7,420.4 L1628.2,426.8 L1629.7,433.1 L1631.2,439.4 L1632.7,445.7 L1634.2,451.9 L1635.7,458.1 L1637.2,464.3 L1638.7,470.4 L1640.2,476.5 L1641.7,482.5 L1643.2,488.5 L1644.7,494.3 L1646.2,500.1 L1647.7,505.8 L1649.2,511.3 L1650.7,516.8 L1652.2,522.3 L1653.7,527.6 L1655.2,533.0 L1656.7,538.2 L1658.2,543.4 L1659.7,548.5 L1661.2,553.5 L1662.7,558.5 L1664.2,563.3 L1665.7,568.1 L1667.2,572.8 L1668.7,577.5 L1670.2,582.0 L1671.7,586.5 L1673.2,590.8 L1674.7,595.1 L1676.2,599.3 L1677.7,603.3 L1679.2,607.3 L1680.7,611.2 L1682.2,614.9 L1683.7,618.5 L1685.2,621.9 L1686.7,625.2 L1688.2,628.4 L1689.7,631.5 L1691.2,634.5 L1692.7,637.4 L1694.2,640.2 L1695.7,642.9 L1697.2,645.5 L1698.7,648.0 L1700.2,650.4 L1701.7,652.7 L1703.2,654.9 L1704.7,657.1 L1706.2,659.1 L1707.7,661.1 L1709.2,663.0 L1710.7,664.8 L1712.2,666.5 L1713.7,668.2 L1715.2,669.7 L1716.7,671.3 L1718.2,672.7 L1719.7,674.1 L1721.2,675.4 L1722.7,676.7 L1724.2,677.9 L1725.7,679.1 L1727.2,680.2 L1728.7,681.3 L1730.2,682.3 L1731.7,683.3 L1733.2,684.2 L1734.7,685.1 L1736.2,685.9 L1737.7,686.6 L1739.2,687.4 L1740.7,688.1 L1742.2,688.7 L1743.7,689.3 L1745.2,689.9 L1746.7,690.4 L1748.2,690.9 L1749.7,691.4 L1751.2,691.9 L1752.7,692.3 L1754.2,692.7 L1755.7,693.1 L1757.2,693.4 L1758.7,693.8 L1760.2,694.1 L1761.7,694.4 L1763.2,694.7 L1764.7,694.9 L1766.2,695.1 L1767.7,695.3 L1769.2,695.5 L1770.7,695.7 L1772.2,695.9 L1773.7,696.1 L1775.2,696.2 L1776.7,696.4 L1778.2,696.5 L1779.7,696.6 L1781.2,696.8 L1782.7,696.9 L1784.2,697.0 L1785.7,697.2 L1787.2,697.3 L1788.7,697.4 L1790.2,697.6 L1791.7,697.7 L1793.2,697.8 L1794.7,697.8 L1796.2,697.9" stroke="#444" stroke-width="3.5" stroke-linecap="round" stroke-dasharray="17 10.9 2.4 11.2"/>
<path d="M1214.4,697.0 L1215.9,696.6 L1217.4,696.2 L1218.9,695.9 L1220.4,695.5 L1221.9,695.1 L1223.4,694.6 L1224.9,694.0 L1226.4,693.3 L1227.9,692.6 L1229.4,691.9 L1230.9,691.2 L1232.4,690.6 L1233.9,689.9 L1235.4,689.2 L1236.9,688.4 L1238.4,687.6 L1239.9,686.8 L1241.4,685.9 L1242.9,685.0 L1244.4,684.2 L1245.9,683.3 L1247.4,682.4 L1248.9,681.4 L1250.4,680.3 L1251.9,679.2 L1253.4,678.1 L1254.9,676.9 L1256.4,675.6 L1257.9,674.3 L1259.4,673.0 L1260.9,671.9 L1262.4,670.8 L1263.9,669.6 L1265.4,668.5 L1266.9,667.3 L1268.4,666.1 L1269.9,664.9 L1271.4,663.6 L1272.9,662.3 L1274.4,661.0 L1275.9,659.6 L1277.4,658.2 L1278.9,656.9 L1280.4,655.5 L1281.9,654.2 L1283.4,652.8 L1284.9,651.4 L1286.4,649.9 L1287.9,648.5 L1289.4,647.0 L1290.9,645.4 L1292.4,643.8 L1293.9,642.2 L1295.4,640.6 L1296.9,638.9 L1298.4,637.2 L1299.9,635.5 L1301.4,633.7 L1302.9,631.9 L1304.4,630.1 L1305.9,628.2 L1307.4,626.4 L1308.9,624.6 L1310.4,622.8 L1311.9,621.0 L1313.4,619.2 L1314.9,617.3 L1316.4,615.4 L1317.9,613.4 L1319.4,611.4 L1320.9,609.4 L1322.4,607.3 L1323.9,605.3 L1325.4,603.1 L1326.9,601.0 L1328.4,598.8 L1329.9,596.5 L1331.4,594.3 L1332.9,592.1 L1334.4,589.9 L1335.9,587.7 L1337.4,585.4 L1338.9,583.2 L1340.4,580.9 L1341.9,578.5 L1343.4,576.2 L1344.9,573.7 L1346.4,571.3 L1347.9,568.8 L1349.4,566.3 L1350.9,563.7 L1352.4,561.1 L1353.9,558.5 L1355.4,555.8 L1356.9,553.1 L1358.4,550.3 L1359.9,547.5 L1361.4,544.8 L1362.9,542.1 L1364.4,539.3 L1365.9,536.5 L1367.4,533.7 L1368.9,530.8 L1370.4,527.9 L1371.9,524.9 L1373.4,521.9 L1374.9,518.9 L1376.4,515.8 L1377.9,512.7 L1379.4,509.5 L1380.9,506.3 L1382.4,503.0 L1383.9,499.7 L1385.4,496.4 L1386.9,493.0 L1388.4,489.5 L1389.9,486.0 L1391.4,482.5 L1392.9,478.9 L1394.4,475.3 L1395.9,471.6 L1397.4,467.9 L1398.9,464.1 L1400.4,460.2 L1401.9,456.3 L1403.4,452.4 L1404.9,448.4 L1406.4,444.4 L1407.9,440.4 L1409.4,436.3 L1410.9,432.2 L1412.4,428.1 L1413.9,423.9 L1415.4,419.6 L1416.9,415.3 L1418.4,410.9 L1419.9,406.5 L1421.4,402.0 L1422.9,397.5 L1424.4,392.9 L1425.9,388.2 L1427.4,383.5 L1428.9,378.7 L1430.4,373.9 L1431.9,369.0 L1433.4,364.1 L1434.9,359.2 L1436.4,354.2 L1437.9,349.2 L1439.4,344.2 L1440.9,339.2 L1442.4,334.3 L1443.9,329.3 L1445.4,324.4 L1446.9,319.4 L1448.4,314.4 L1449.9,309.5 L1451.4,304.5 L1452.9,299.5 L1454.4,294.6 L1455.9,289.6 L1457.4,284.7 L1458.9,279.8 L1460.4,274.9 L1461.9,270.0 L1463.4,265.2 L1464.9,260.4 L1466.4,255.6 L1467.9,250.9 L1469.4,246.3 L1470.9,241.7 L1472.4,237.1 L1473.9,232.7 L1475.4,228.3 L1476.9,223.9 L1478.4,219.7 L1479.9,215.5 L1481.4,211.3 L1482.9,207.3 L1484.4,203.3 L1485.9,199.4 L1487.4,195.6 L1488.9,191.9 L1490.4,188.3 L1491.9,184.7 L1493.4,181.3 L1494.9,178.0 L1496.4,174.7 L1497.9,171.6 L1499.4,168.6 L1500.9,165.7 L1502.4,162.8 L1503.9,160.2 L1505.4,157.6 L1506.9,155.1 L1508.4,152.8 L1509.9,150.6 L1511.4,148.5 L1512.9,146.6 L1514.4,144.8 L1515.9,143.1 L1517.4,141.5 L1518.9,140.1 L1520.4,138.9 L1521.9,137.8 L1523.4,136.8 L1524.9,136.0 L1526.4,135.4 L1527.9,135.0 L1529.4,134.7 L1530.9,134.4 L1532.4,134.4 L1533.9,134.6 L1535.4,134.9 L1536.9,135.4 L1538.4,136.0 L1539.9,136.8 L1541.4,137.8 L1542.9,139.0 L1544.4,140.4 L1545.9,141.9 L1547.4,143.7 L1548.9,145.6 L1550.4,147.8 L1551.9,150.1 L1553.4,152.6 L1554.9,155.3 L1556.4,158.1 L1557.9,161.1 L1559.4,164.2 L1560.9,167.3 L1562.4,170.4 L1563.9,173.5 L1565.4,176.6 L1566.9,179.9 L1568.4,183.2 L1569.9,186.6 L1571.4,190.1 L1572.9,193.7 L1574.4,197.6 L1575.9,201.8 L1577.4,206.3 L1578.9,211.0 L1580.4,215.9 L1581.9,220.8 L1583.4,225.9 L1584.9,231.0 L1586.4,236.3 L1587.9,241.6 L1589.4,247.0 L1590.9,252.5 L1592.4,258.1 L1593.9,263.8 L1595.4,269.5 L1596.9,275.3 L1598.4,281.1 L1599.9,287.2 L1601.4,293.5 L1602.9,300.2 L1604.4,307.1 L1605.9,314.2 L1607.4,321.4 L1608.9,328.6 L1610.4,335.9 L1611.9,343.2 L1613.4,350.5 L1614.9,357.9 L1616.4,365.3 L1617.9,372.7 L1619.4,380.1 L1620.9,387.4 L1622.4,394.6 L1623.9,401.4 L1625.4,408.0 L1626.9,414.4 L1628.4,420.8 L1629.9,427.2 L1631.4,433.6 L1632.9,439.9 L1634.4,446.2 L1635.9,452.5 L1637.4,458.7 L1638.9,464.9 L1640.4,471.1 L1641.9,477.1 L1643.4,483.2 L1644.9,489.2 L1646.4,495.1 L1647.9,500.9 L1649.4,506.7 L1650.9,512.5 L1652.4,518.2 L1653.9,523.8 L1655.4,529.3 L1656.9,534.7 L1658.4,540.1 L1659.9,545.5 L1661.4,550.7 L1662.9,556.0 L1664.4,561.1 L1665.9,566.2 L1667.4,571.1 L1668.9,576.0 L1670.4,580.8 L1671.9,585.5 L1673.4,590.0 L1674.9,594.5 L1676.4,598.8 L1677.9,603.1 L1679.4,607.2 L1680.9,611.2 L1682.4,615.1 L1683.9,618.9 L1685.4,622.6 L1686.9,626.1 L1688.4,629.5 L1689.9,632.8 L1691.4,635.9 L1692.9,639.0 L1694.4,642.0 L1695.9,644.8 L1697.4,647.5 L1698.9,650.2 L1700.4,652.7 L1701.9,655.1 L1703.4,657.3 L1704.9,659.5 L1706.4,661.6 L1707.9,663.6 L1709.4,665.5 L1710.9,667.3 L1712.4,669.1 L1713.9,670.8 L1715.4,672.4 L1716.9,674.0 L1718.4,675.4 L1719.9,676.8 L1721.4,678.2 L1722.9,679.4 L1724.4,680.6 L1725.9,681.7 L1727.4,682.8 L1728.9,683.9 L1730.4,685.1 L1731.9,686.1 L1733.4,687.1 L1734.9,688.0 L1736.4,688.8 L1737.9,689.5 L1739.4,690.3 L1740.9,691.2 L1742.4,692.2 L1743.9,693.1 L1745.4,693.9 L1746.9,694.5 L1748.4,695.2 L1749.9,695.9 L1751.4,696.5" stroke="#444" stroke-width="3.7" stroke-linecap="round" stroke-dasharray="0.1 6.49"/>
</g>
<g fill="none">
<path d="M1768.3,15.2 H1840.5" stroke="#858585" stroke-width="3.1" stroke-linecap="round"/>
<path d="M1768.8,59.4 H1840" stroke="#444" stroke-width="3.5" stroke-linecap="round" stroke-dasharray="14.1 18.95"/>
<path d="M1768.7,104.0 H1832" stroke="#444" stroke-width="3.5" stroke-linecap="round" stroke-dasharray="2.6 17.1"/>
<path d="M1768.8,148.0 H1840.2" stroke="#444" stroke-width="3.5" stroke-linecap="round" stroke-dasharray="17 10.9 2.4 11.2"/>
<path d="M1768.9,192.5 H1836" stroke="#444" stroke-width="3.7" stroke-linecap="round" stroke-dasharray="0.1 6.49"/>
</g>
<text class="b" x="1857.3" y="27.8" font-size="36" textLength="61" fill="#444">Co1</text>
<text class="b" x="1857.3" y="72.0" font-size="36" textLength="61" fill="#444">Co2</text>
<text class="b" x="1857.3" y="116.2" font-size="36" textLength="61" fill="#444">Co3</text>
<text class="b" x="1857.3" y="160.4" font-size="36" textLength="61" fill="#444">Co4</text>
<text class="b" x="1857.3" y="204.6" font-size="36" textLength="61" fill="#444">Co5</text>
</svg></body></html>
